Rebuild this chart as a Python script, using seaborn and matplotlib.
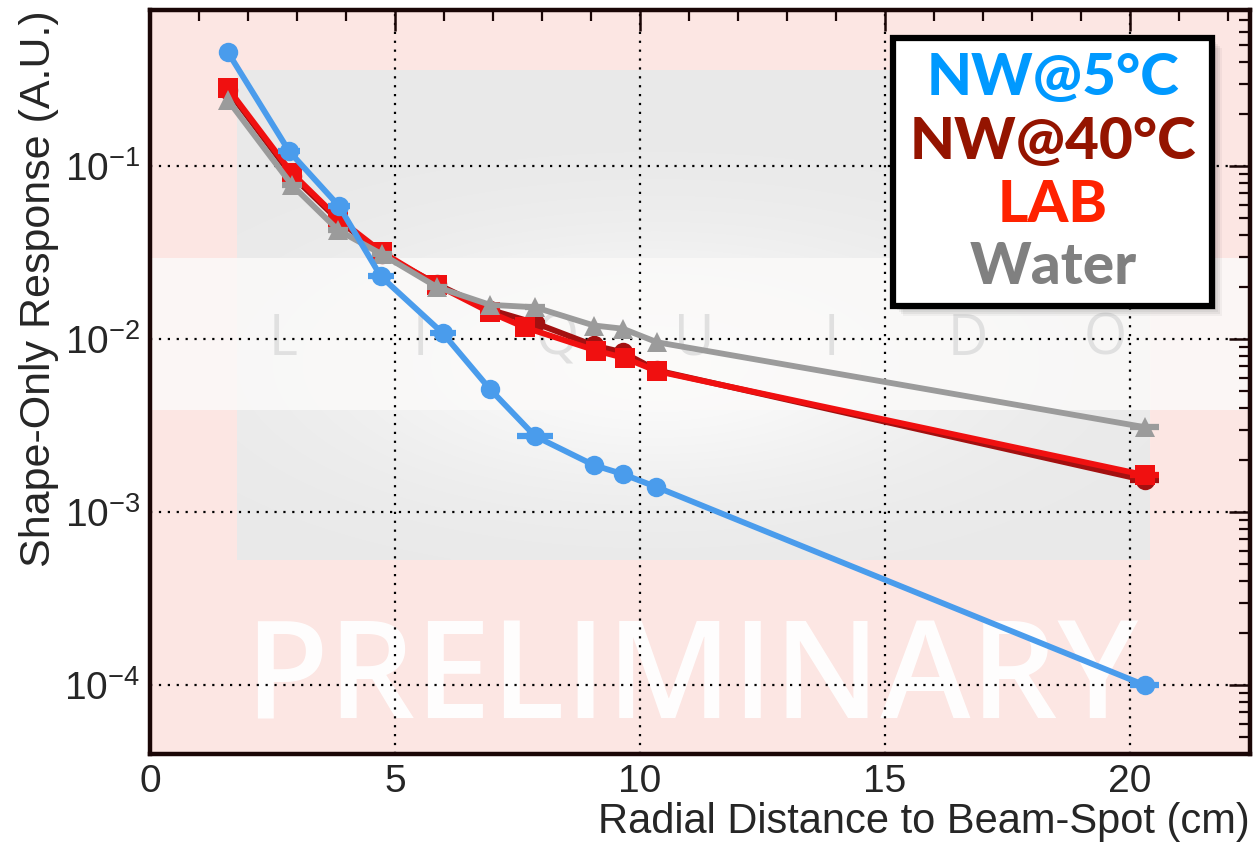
import numpy as np
import pandas as pd
import seaborn as sns
import matplotlib
matplotlib.use("Agg")
import matplotlib.pyplot as plt
from matplotlib.patches import Rectangle
from matplotlib.ticker import FixedLocator, FuncFormatter, MultipleLocator, LogLocator

# ---- measured response vs. radial distance ----
x_nw5 = [1.59, 2.84, 3.86, 4.71, 5.98, 6.94, 7.86, 9.06, 9.65, 10.33, 20.3]
y_nw5 = [0.456, 0.122, 0.0587, 0.0231, 0.0108, 0.00514, 0.00275, 0.00187, 0.00166, 0.00140, 0.000100]
xerr_nw5 = [0.0, 0.22, 0.22, 0.26, 0.26, 0.0, 0.37, 0.0, 0.0, 0.0, 0.3]

x_nw40 = [1.59, 2.9, 3.84, 4.73, 5.86, 6.94, 7.86, 9.06, 9.65, 10.35, 20.3]
y_nw40 = [0.275, 0.088, 0.049, 0.031, 0.0208, 0.0148, 0.0124, 0.0092, 0.0084, 0.0066, 0.00153]
xerr_nw40 = [0.0, 0.2, 0.2, 0.2, 0.2, 0.0, 0.2, 0.0, 0.0, 0.0, 0.3]

x_lab = [1.59, 2.9, 3.84, 4.73, 5.86, 6.94, 7.65, 9.1, 9.7, 10.35, 20.3]
y_lab = [0.282, 0.091, 0.050, 0.0319, 0.0205, 0.0143, 0.0117, 0.0086, 0.00776, 0.00653, 0.00164]
xerr_lab = [0.0, 0.2, 0.2, 0.2, 0.2, 0.0, 0.2, 0.0, 0.0, 0.0, 0.3]

x_water = [1.59, 2.9, 3.84, 4.73, 5.86, 6.94, 7.86, 9.06, 9.65, 10.35, 20.3]
y_water = [0.241, 0.0777, 0.0427, 0.031, 0.0200, 0.0158, 0.0153, 0.0120, 0.0115, 0.0096, 0.0031]
xerr_water = [0.0, 0.2, 0.2, 0.2, 0.2, 0.0, 0.2, 0.0, 0.0, 0.0, 0.3]

legend_labels = ["NW@5°C", "NW@40°C", "LAB", "Water"]
legend_colors = ["#0099ff", "#941400", "#ff2200", "#808080"]

x_ticks = [0, 5, 10, 15, 20]
y_ticks = [1e-4, 1e-3, 1e-2, 1e-1]

sns.set_theme(style="white")
plt.rcParams["font.family"] = ["Liberation Sans", "DejaVu Sans"]
plt.rcParams["mathtext.default"] = "regular"

fig = plt.figure(figsize=(12.6, 8.5), dpi=100)
fig.patch.set_facecolor("white")
ax = fig.add_axes([150 / 1260, 96 / 850, 1100 / 1260, 744 / 850])
ax.set_facecolor("#fce6e3")

# background artwork: grey panel with a soft glow, white band, lettering
ax.add_patch(Rectangle((0.079, 0.261), 0.83, 0.658, transform=ax.transAxes,
                       facecolor="#e9e9e9", edgecolor="none", zorder=0.1))
gx, gy = np.meshgrid(np.linspace(-1, 1, 300), np.linspace(-1, 1, 200))
glow = np.exp(-((gx * 1.2 + 0.1) ** 2 + ((gy - 0.2) * 1.6) ** 2) * 1.5)
rgba = np.ones((200, 300, 4))
rgba[..., 3] = glow * 0.85
ax.imshow(rgba, extent=(0.079, 0.909, 0.261, 0.919), transform=ax.transAxes,
          aspect="auto", zorder=0.15, interpolation="bilinear")
ax.add_patch(Rectangle((0.0, 0.462), 1.0, 0.205, transform=ax.transAxes,
                       facecolor="#fbfaf9", edgecolor="none", alpha=0.85, zorder=0.2))
for i, ch in enumerate("LIQUIDO"):
    ax.text((283 + 137 * i - 150) / 1100, 0.556, ch, transform=ax.transAxes,
            ha="center", va="center", fontsize=40, color="#e0e0e0",
            family=["Open Sans", "DejaVu Sans"], zorder=0.3)
ax.text(0.492, 0.095, "PRELIMINARY", transform=ax.transAxes, ha="center", va="center",
        fontsize=98, fontweight="semibold", color="white", alpha=0.95,
        family=["Open Sans", "DejaVu Sans"], zorder=0.4)

# series
series = [
    (x_nw40, y_nw40, xerr_nw40, "#a31010", "o", 14),
    (x_lab, y_lab, xerr_lab, "#f01010", "s", 14),
    (x_water, y_water, xerr_water, "#9b9b9b", "^", 14),
    (x_nw5, y_nw5, xerr_nw5, "#4a9cec", "o", 14),
]
for k, (xs, ys, xe, col, mk, ms) in enumerate(series):
    sns.lineplot(x=xs, y=ys, ax=ax, color=col, linewidth=4.2, marker=mk,
                 markersize=ms, markeredgewidth=0, sort=False, zorder=3 + k)
    ax.errorbar(xs, ys, xerr=xe, fmt="none", ecolor=col, elinewidth=4.5,
                capsize=0, zorder=3 + k)

ax.set_yscale("log")
ax.set_xlim(0, 22.45)
ax.set_ylim(4.0e-5, 0.8)

ax.xaxis.set_major_locator(FixedLocator(x_ticks))
ax.xaxis.set_minor_locator(MultipleLocator(1))
ax.yaxis.set_major_locator(FixedLocator(y_ticks))
ax.yaxis.set_minor_locator(LogLocator(base=10, subs=np.arange(2, 10)))
ax.yaxis.set_major_formatter(FuncFormatter(lambda v, p: r"$10^{%d}$" % int(round(np.log10(v)))))
ax.xaxis.set_major_formatter(FuncFormatter(lambda v, p: "%d" % v))

ax.grid(True, which="major", color="black", linestyle=(0, (1, 3)), linewidth=1.6, zorder=1)
ax.set_axisbelow(False)
ax.tick_params(which="both", direction="in", top=True, right=True, color="#1a0606")
ax.tick_params(which="major", length=15, width=1.8, labelsize=28, pad=7)
ax.tick_params(which="minor", length=8, width=1.6)
for sp in ax.spines.values():
    sp.set_color("#1a0606")
    sp.set_linewidth(3.2)
    sp.set_zorder(10)

ax.set_xlabel("Radial Distance to Beam-Spot (cm)", fontsize=30, loc="right", labelpad=2)
ax.set_ylabel("Shape-Only Response (A.U.)", fontsize=31, loc="top", labelpad=4)

# legend panel with drop shadow
lx0, ly0, lw, lh = 893 / 1260, (850 - 306) / 850, 319 / 1260, 268 / 850
for i, a in enumerate([0.06, 0.06, 0.05, 0.05, 0.04]):
    off = (2 + 2 * i) / 1260
    fig.add_artist(Rectangle((lx0 + off, ly0 - off * 1260 / 850), lw, lh,
                             transform=fig.transFigure, facecolor="black",
                             edgecolor="none", alpha=a, zorder=20))
fig.add_artist(Rectangle((lx0, ly0), lw, lh, transform=fig.transFigure,
                         facecolor="white", edgecolor="black", linewidth=4.5, zorder=21))
ycent = [78, 143, 205, 268]
for lab, col, yc in zip(legend_labels, legend_colors, ycent):
    fig.text(1053 / 1260, 1 - yc / 850, lab, ha="center", va="center", color=col,
             fontsize=42, fontweight="black", family=["Lato", "DejaVu Sans"], zorder=22)

fig.savefig("out.png", dpi=100)
